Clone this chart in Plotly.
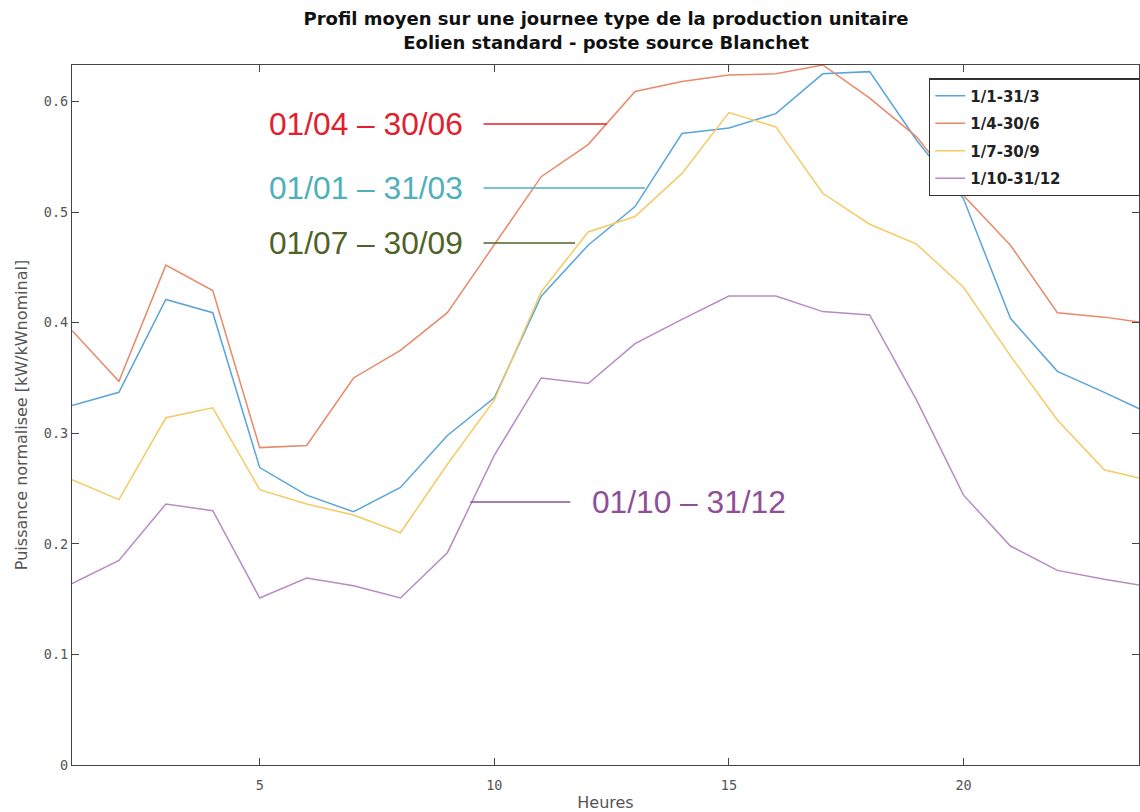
import plotly.graph_objects as go

hours = list(range(1, 25))

s_jan_mar = [0.325, 0.337, 0.421, 0.409, 0.269, 0.244, 0.229, 0.251, 0.298, 0.332,
             0.424, 0.470, 0.505, 0.571, 0.576, 0.589, 0.625, 0.627, 0.565, 0.512,
             0.404, 0.356, 0.337, 0.317]
s_apr_jun = [0.393, 0.347, 0.452, 0.429, 0.287, 0.289, 0.350, 0.375, 0.409, 0.470,
             0.532, 0.561, 0.609, 0.618, 0.624, 0.625, 0.633, 0.603, 0.568, 0.515,
             0.470, 0.409, 0.405, 0.399]
s_jul_sep = [0.258, 0.240, 0.314, 0.323, 0.249, 0.236, 0.226, 0.210, 0.272, 0.330,
             0.428, 0.482, 0.496, 0.535, 0.590, 0.577, 0.517, 0.489, 0.471, 0.432,
             0.370, 0.312, 0.267, 0.257]
s_oct_dec = [0.164, 0.185, 0.236, 0.230, 0.151, 0.169, 0.162, 0.151, 0.192, 0.280,
             0.350, 0.345, 0.381, 0.403, 0.424, 0.424, 0.410, 0.407, 0.330, 0.244,
             0.198, 0.176, 0.168, 0.161]

legend_names = ["1/1-31/3", "1/4-30/6", "1/7-30/9", "1/10-31/12"]
line_colors = ["#5aa5d8", "#e8896b", "#f4cb63", "#b88ac6"]
series = [s_jan_mar, s_apr_jun, s_jul_sep, s_oct_dec]

callout_texts = ["01/04 – 30/06", "01/01 – 31/03", "01/07 – 30/09", "01/10 – 31/12"]
callout_colors = ["#e0202e", "#4fb0bb", "#4f6228", "#8e4f98"]

pad = "\u00a0" * 14  # invisible padding so the legend box runs to the right edge

fig = go.Figure()
for i, (name, col, ys) in enumerate(zip(legend_names, line_colors, series)):
    fig.add_trace(go.Scatter(x=hours, y=ys, mode="lines", name=name + pad,
                             legendgroup=f"g{i}",
                             line=dict(color=col, width=1.5)))

# callouts (text + leader line)
callouts = [
    (callout_texts[0], callout_colors[0], 9.38, 0.5796, 9.77, 12.40, "right"),
    (callout_texts[1], callout_colors[1], 9.38, 0.5217, 9.77, 13.21, "right"),
    (callout_texts[2], callout_colors[2], 9.38, 0.4720, 9.77, 11.72, "right"),
    (callout_texts[3], callout_colors[3], 12.04, 0.2378, 9.49, 11.62, "left"),
]
for txt, col, tx, ty, lx0, lx1, anc in callouts:
    fig.add_shape(type="line", x0=lx0, x1=lx1, y0=ty, y1=ty, xref="x", yref="y",
                  line=dict(color=col, width=1.5))
    fig.add_annotation(x=tx, y=ty, xref="x", yref="y", text=txt, showarrow=False,
                       xanchor=anc, yanchor="middle",
                       font=dict(family="Liberation Sans, Arial", size=31.7, color=col))

axis_common = dict(showline=True, linecolor="#444", linewidth=1.3, mirror="allticks",
                   ticks="inside", ticklen=7, tickcolor="#444", showgrid=False,
                   zeroline=False,
                   tickfont=dict(family="DejaVu Sans Mono", size=13.5, color="#555"))

fig.update_layout(
    width=1140, height=812,
    margin=dict(l=72, r=0, t=65, b=47),
    paper_bgcolor="white", plot_bgcolor="white",
    title=dict(text="Profil moyen sur une journee type de la production unitaire<br>Eolien standard - poste source Blanchet",
               x=0.5316, xanchor="center", y=0.969, yanchor="middle",
               font=dict(family="DejaVu Sans", size=18, color="#111", weight="bold")),
    xaxis=dict(range=[1, 23.74], tickvals=[5, 10, 15, 20], ticklabelstandoff=8,
               title=dict(text="Heures", standoff=6,
                          font=dict(family="DejaVu Sans", size=16, color="#555")),
               **axis_common),
    yaxis=dict(range=[0, 0.633], tickvals=[0, 0.1, 0.2, 0.3, 0.4, 0.5, 0.6],
               ticktext=["0", "0.1", "0.2", "0.3", "0.4", "0.5", "0.6"],
               title=dict(text="Puissance normalisee [kW/kWnominal]", standoff=12,
                          font=dict(family="DejaVu Sans", size=16, color="#555")),
               **axis_common),
    legend=dict(x=0.803, y=0.981, xanchor="left", yanchor="top",
                bgcolor="white", bordercolor="#333", borderwidth=1.3,
                font=dict(family="DejaVu Sans", size=15, color="#222", weight="bold"),
                itemwidth=30, tracegroupgap=5),
    showlegend=True,
)

fig.write_html("out.html")
